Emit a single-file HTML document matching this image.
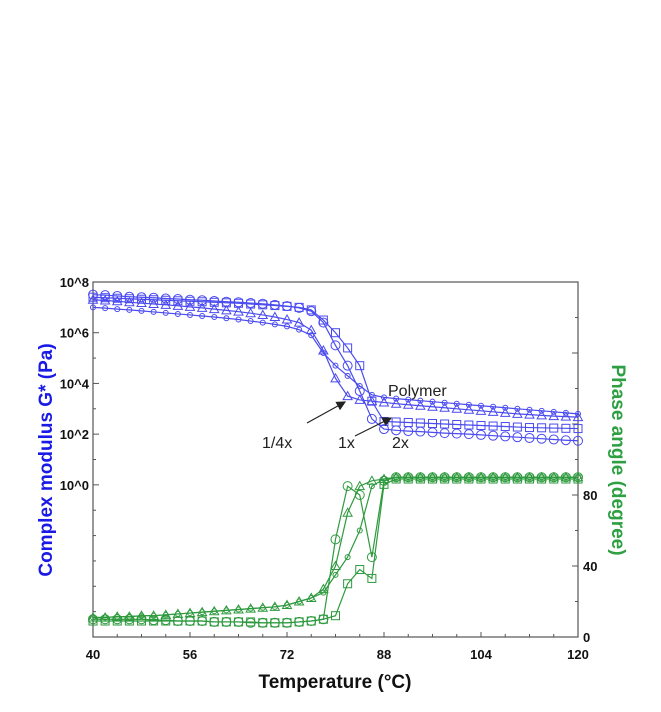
<!DOCTYPE html>
<html><head><meta charset="utf-8"><style>
body{margin:0;background:#fff;}
svg{display:block;font-family:"Liberation Sans",sans-serif;}
</style></head><body>
<svg id="chart" width="661" height="712" viewBox="0 0 661 712"></svg>
<script>
const temps=[40,42,44,46,48,50,52,54,56,58,60,62,64,66,68,70,72,74,76,78,80,82,84,86,88,90,92,94,96,98,100,102,104,106,108,110,112,114,116,118,120];
const xTicks=[40,56,72,88,104,120];
const leftTickLabels=["10^8","10^6","10^4","10^2","10^0"];
const leftTickValues=[8,6,4,2,0];
const rightTicks=[0,40,80];
// log10 G* series
const gCircle=[7.5,7.48,7.45,7.42,7.4,7.38,7.35,7.33,7.3,7.28,7.25,7.22,7.2,7.17,7.14,7.1,7.05,6.98,6.85,6.4,5.5,4.7,3.7,2.6,2.2,2.15,2.12,2.1,2.07,2.04,2.02,2.0,1.97,1.94,1.91,1.88,1.85,1.82,1.79,1.76,1.74];
const gSquare=[7.4,7.38,7.36,7.34,7.32,7.3,7.28,7.26,7.24,7.22,7.2,7.18,7.16,7.13,7.1,7.07,7.04,7.0,6.9,6.5,6.0,5.4,4.7,3.3,2.5,2.48,2.46,2.44,2.42,2.4,2.38,2.36,2.34,2.32,2.3,2.28,2.26,2.25,2.24,2.23,2.22];
const gTriangle=[7.3,7.27,7.24,7.2,7.17,7.13,7.1,7.06,7.02,6.98,6.93,6.88,6.83,6.77,6.7,6.62,6.52,6.4,6.1,5.3,4.2,3.5,3.35,3.3,3.25,3.2,3.16,3.12,3.08,3.04,3.0,2.96,2.92,2.88,2.84,2.8,2.77,2.74,2.71,2.69,2.67];
const gDiamond=[7.0,6.97,6.93,6.9,6.86,6.82,6.78,6.74,6.7,6.66,6.62,6.57,6.52,6.46,6.4,6.33,6.25,6.12,5.9,5.2,4.7,4.3,3.9,3.55,3.45,3.4,3.36,3.32,3.28,3.24,3.2,3.16,3.12,3.08,3.04,3.0,2.96,2.92,2.88,2.84,2.8];
// phase angle series (degree)
const pTriangle=[11,11,11.5,11.5,12,12,12.5,13,13.5,14,14.5,15,15.5,16,16.5,17,18,20,22,27,40,70,85,88,89,90,90,90,90,90,90,90,90,90,90,90,90,90,90,90,90];
const pCircle=[10,10,10,10,10,9.5,9.5,9,9,9,8.5,8.5,8.5,8,8,8,8,8.5,9,10,55,85,80,45,88,90,90,90,90,90,90,90,90,90,90,90,90,90,90,90,90];
const pSquare=[9,9,9,9,9,9,9,9,9,9,8.5,8.5,8.5,8.5,8,8,8,8.5,9,10,12,30,38,33,86,89,89,89,89,89,89,89,89,89,89,89,89,89,89,89,89];
const pDiamond=[11,11,11.5,11.5,12,12,12.5,13,13.5,14,14.5,15,15.5,16,16.5,17,18,20,22,25,35,45,60,85,89,90,90,90,90,90,90,90,90,90,90,90,90,90,90,90,90];

const X0=93,X1=578,YT=282,YB=637;
const xS=t=>X0+(t-40)/80*(X1-X0);
const yG=l=>YB-(l+6)/14*(YB-YT);
const yP=d=>YB-d/200*(YB-YT);
const svg=document.getElementById('chart');
const NS='http://www.w3.org/2000/svg';
function mk(tag,attrs,parent){const e=document.createElementNS(NS,tag);for(const k in attrs)e.setAttribute(k,attrs[k]);(parent||svg).appendChild(e);return e;}

const frame=mk('rect',{x:X0,y:YT,width:X1-X0,height:YB-YT,fill:'none',stroke:'#555','stroke-width':1.2});



for(let t=40;t<=120;t+=4){const major=(t-40)%16===0;mk('line',{x1:xS(t),x2:xS(t),y1:YB,y2:YB-(major?5:3),stroke:'#555'});}
xTicks.forEach(t=>{const e=mk('text',{x:xS(t),y:YB+22,'text-anchor':'middle','font-size':13,'font-weight':'bold',fill:'#111'});e.textContent=t;

});
for(let d=8;d>=-6;d--){const major=d>=0&&d%2===0;mk('line',{x1:X0,x2:X0+(major?6:3),y1:yG(d),y2:yG(d),stroke:'#555'});}
leftTickValues.forEach((v,i)=>{const e=mk('text',{x:X0-4,y:yG(v)+5,'text-anchor':'end','font-size':13,'font-weight':'bold',fill:'#111'});e.textContent=leftTickLabels[i];

});
for(let d=0;d<=200;d+=20){const major=d%40===0;mk('line',{x1:X1,x2:X1-(major?6:3),y1:yP(d),y2:yP(d),stroke:'#555'});}
rightTicks.forEach(v=>{const e=mk('text',{x:X1+5,y:yP(v)+5,'font-size':13,'font-weight':'bold',fill:'#111'});e.textContent=v;

});

function marker(g,type,x,y,col){
  if(type==='circle')mk('circle',{cx:x,cy:y,r:4.5,fill:'none',stroke:col,'stroke-width':1},g);
  else if(type==='square')mk('rect',{x:x-4,y:y-4,width:8,height:8,fill:'none',stroke:col,'stroke-width':1},g);
  else if(type==='triangle')mk('path',{d:`M${x},${y-4.5}L${x+4.5},${y+3.5}L${x-4.5},${y+3.5}Z`,fill:'none',stroke:col,'stroke-width':1},g);
  else mk('circle',{cx:x,cy:y,r:2.5,fill:'none',stroke:col,'stroke-width':1},g);
}
function series(vals,yf,type,col,name){
  const g=mk('g',{});
  
  
  mk('polyline',{points:vals.map((v,i)=>xS(temps[i])+','+yf(v)).join(' '),fill:'none',stroke:col,'stroke-width':1.2},g);
  vals.forEach((v,i)=>marker(g,type,xS(temps[i]),yf(v),col));
}
const B='#4a4af0',G='#2e9a3e';
series(gCircle,yG,'circle',B,'modulus-circle-series');
series(gSquare,yG,'square',B,'modulus-square-series');
series(gTriangle,yG,'triangle',B,'modulus-triangle-series');
series(gDiamond,yG,'diamond',B,'modulus-small-series');
series(pTriangle,yP,'triangle',G,'phase-triangle-series');
series(pCircle,yP,'circle',G,'phase-circle-series');
series(pSquare,yP,'square',G,'phase-square-series');
series(pDiamond,yP,'diamond',G,'phase-small-series');

mk('defs',{}).innerHTML='<marker id="ah" markerWidth="8" markerHeight="8" refX="7" refY="4" orient="auto"><path d="M0,0L8,4L0,8Z" fill="#222"/></marker>';
mk('line',{x1:307,y1:423,x2:345,y2:402,stroke:'#222','stroke-width':1.2,'marker-end':'url(#ah)'});
mk('line',{x1:355,y1:436,x2:391,y2:418,stroke:'#222','stroke-width':1.2,'marker-end':'url(#ah)'});
function label(txt,x,y,size,name){const e=mk('text',{x:x,y:y,'font-size':size,fill:'#222'});e.textContent=txt;

}
label('Polymer',388,396,16,'polymer-label');
label('1/4x',262,448,16,'quarter-x-label');
label('1x',338,448,16,'one-x-label');
label('2x',392,448,16,'two-x-label');

const xt=mk('text',{x:335,y:688,'text-anchor':'middle','font-size':19,'font-weight':'bold',fill:'#111'});xt.textContent='Temperature (°C)';


const lt=mk('text',{x:0,y:0,'text-anchor':'middle','font-size':19,'font-weight':'bold',fill:'#1a1ae6',transform:'translate(52,460) rotate(-90)'});lt.textContent='Complex modulus G* (Pa)';


const rt=mk('text',{x:0,y:0,'text-anchor':'middle','font-size':19,'font-weight':'bold',fill:'#2ea043',transform:'translate(612,460) rotate(90)'});rt.textContent='Phase angle (degree)';


</script>
</body></html>
